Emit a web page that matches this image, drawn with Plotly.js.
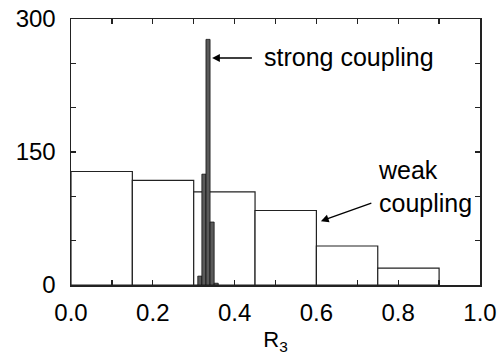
<!DOCTYPE html>
<html>
<head>
<meta charset="utf-8">
<script src="https://cdn.plot.ly/plotly-3.0.1.min.js"></script>
<style>html,body{margin:0;padding:0;background:#fff;}#chart{width:501px;height:362px;}</style>
</head>
<body>
<div id="chart"></div>
<script>
// Weak coupling histogram (bin width 0.15)
const weakBinEdges = [0.0, 0.15, 0.30, 0.45, 0.60, 0.75, 0.90];
const weakCounts = [128, 118, 105, 84, 44, 19];
// Strong coupling histogram (bin width 0.01)
const strongBinEdges = [0.31, 0.32, 0.33, 0.34, 0.35, 0.36];
const strongCounts = [10, 125, 277, 71, 2];
// Ticks
const xTickVals = [0, 0.1, 0.2, 0.3, 0.4, 0.5, 0.6, 0.7, 0.8, 0.9, 1.0];
const xTickText = ['0.0', '', '0.2', '', '0.4', '', '0.6', '', '0.8', '', '1.0'];
const yTickVals = [0, 50, 100, 150, 200, 250, 300];
const yTickText = ['0', '', '', '150', '', '', '300'];

function centers(edges) { const c = []; for (let i = 0; i < edges.length - 1; i++) c.push((edges[i] + edges[i + 1]) / 2); return c; }
function widths(edges) { const w = []; for (let i = 0; i < edges.length - 1; i++) w.push(edges[i + 1] - edges[i]); return w; }

const FONT = 'Liberation Sans, Arial, Helvetica, sans-serif';

const data = [
  {
    type: 'bar', x: centers(weakBinEdges), y: weakCounts, width: widths(weakBinEdges),
    marker: { color: '#ffffff', line: { color: '#222', width: 1.2 } },
    hoverinfo: 'skip', showlegend: false
  },
  {
    type: 'bar', x: centers(strongBinEdges), y: strongCounts, width: widths(strongBinEdges),
    marker: { color: '#5a5a5a', line: { color: '#111', width: 0.8 } },
    hoverinfo: 'skip', showlegend: false
  }
];

const layout = {
  width: 501, height: 362,
  margin: { l: 71, r: 21, t: 19, b: 77, pad: 0 },
  paper_bgcolor: '#fff', plot_bgcolor: '#fff',
  barmode: 'overlay', bargap: 0,
  font: { family: FONT, color: '#000', size: 24 },
  xaxis: {
    range: [0, 1], tickmode: 'array', tickvals: xTickVals, ticktext: xTickText,
    ticks: 'inside', ticklen: 5, tickwidth: 1.3, tickcolor: '#222',
    showline: true, linecolor: '#222', linewidth: 1.5, mirror: 'ticks',
    showgrid: false, zeroline: false, ticklabelstandoff: 6,
    tickfont: { family: FONT, size: 24, color: '#000' },
    title: { text: 'R<sub>3</sub>', font: { family: FONT, size: 22, color: '#000' }, standoff: 6 }
  },
  yaxis: {
    range: [0, 300], tickmode: 'array', tickvals: yTickVals, ticktext: yTickText,
    ticks: 'inside', ticklen: 5, tickwidth: 1.3, tickcolor: '#222',
    showline: true, linecolor: '#222', linewidth: 1.5, mirror: 'ticks',
    showgrid: false, zeroline: false, ticklabelstandoff: 9,
    tickfont: { family: FONT, size: 24, color: '#000' }
  },
  annotations: [
    {
      xref: 'x', yref: 'y', x: 0.345, y: 256, ax: 0.446, ay: 256, axref: 'x', ayref: 'y',
      showarrow: true, arrowhead: 2, arrowsize: 1.2, arrowwidth: 1.3, arrowcolor: '#000', text: ''
    },
    {
      xref: 'x', yref: 'y', x: 0.466, y: 257, xanchor: 'left', yanchor: 'middle',
      showarrow: false, text: 'strong coupling', font: { family: FONT, size: 25, color: '#000' }
    },
    {
      xref: 'x', yref: 'y', x: 0.611, y: 72, ax: 0.738, ay: 93, axref: 'x', ayref: 'y',
      showarrow: true, arrowhead: 2, arrowsize: 1.2, arrowwidth: 1.3, arrowcolor: '#000', text: ''
    },
    {
      xref: 'x', yref: 'y', x: 0.745, y: 111, xanchor: 'left', yanchor: 'middle', align: 'left',
      showarrow: false, text: 'weak<br>coupling', font: { family: FONT, size: 25, color: '#000' }
    }
  ]
};

Plotly.newPlot('chart', data, layout, { displayModeBar: false, staticPlot: true });
</script>
</body>
</html>
